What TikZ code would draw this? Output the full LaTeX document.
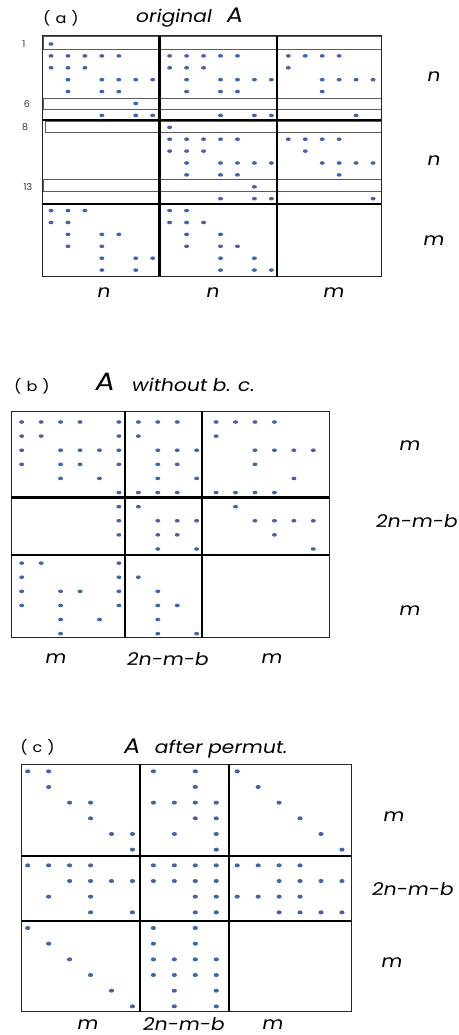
\documentclass[tikz,border=0pt]{standalone}
\usepackage{fontspec}
\setmainfont{Poppins}
\newfontfamily\slantfont{Poppins}[FakeSlant=0.18, FakeStretch=1.16]
\newfontfamily\widefont{Poppins}[FakeStretch=1.15]
\definecolor{dotblue}{HTML}{3A64B6}
\definecolor{boxgray}{HTML}{5A5A5A}

\tikzset{
  matdot/.style={fill=dotblue},
  thinframe/.style={draw=black!85, line width=1pt},
  blockline/.style={draw=black, line width=2.2pt},
  rowbox/.style={draw=boxgray, line width=0.9pt},
  sizelabel/.style={font=\slantfont\fontsize{17.5}{17.5}\selectfont, inner sep=1pt},
  bigletter/.style={font=\slantfont\fontsize{21}{21}\selectfont, inner sep=1pt},
  panellabel/.style={font=\widefont\fontsize{14}{14}\selectfont, inner sep=1pt},
  rowlabel/.style={font=\fontsize{9.5}{10}\selectfont, text=black!80},
}

\begin{document}
\begin{tikzpicture}[x=1pt, y=-1pt]
\useasboundingbox (0,0) rectangle (458,1035);

% ---------- (a) original A ----------
\node[panellabel, anchor=base] (pa) at (61,24) {(\hspace{5pt}a\hspace{5pt})};
\node[sizelabel, anchor=base west] (orig) at (134,22.5) {original};
\node[bigletter, anchor=base west] (Aa) at ([xshift=12pt]orig.base east) {A};
% boundary rows
\draw[rowbox] (43,36.5) rectangle (381,49);
\draw[rowbox] (43,98) rectangle (381,109.5);
\draw[rowbox] (45,121) rectangle (381,132.5);
\draw[rowbox] (43,179.5) rectangle (381,191.5);
% frame and blocks
\draw[thinframe] (42,36) rectangle (381,276);
\draw[blockline] (159.5,36) -- (159.5,276);
\draw[blockline] (277,36) -- (277,277);
\draw[blockline] (42,120) -- (381,120);
\draw[blockline] (42,204) -- (381,204);
% row numbers
\node[rowlabel] (ra1) at (24,44) {1};
\node[rowlabel] (ra6) at (27,104) {6};
\node[rowlabel] (ra8) at (25,127) {8};
\node[rowlabel] (ra13) at (28,187) {13};
% nonzeros
\foreach \r/\cs in {1/{1}, 2/{1,2,3,4,5,8,9,10,11,12,15,16,17,18}, 3/{1,2,3,8,9,10,15},
    4/{2,4,5,6,7,9,11,12,13,14,17,18,19,20}, 5/{2,4,5,9,11,12,17}, 6/{6},
    7/{4,6,7,11,13,14,19}, 8/{8}, 9/{8,9,10,11,12,15,16,17,18}, 10/{8,9,10,16},
    11/{9,11,12,13,14,17,18,19,20}, 12/{9,11,12,18}, 13/{13}, 14/{11,13,14,20},
    15/{1,2,3,8,9}, 16/{1,2,8,9,10}, 17/{2,4,5,9,11}, 18/{2,4,9,11,12},
    19/{4,6,7,11,13}, 20/{4,6,11,13,14}}
  \foreach \c in \cs
    \fill[matdot] ({51+16.95*(\c-1)},{44+11.9*(\r-1)}) ellipse (2.5pt and 1.8pt);
% block sizes
\node[sizelabel] (ra-n1) at (433,77) {n};
\node[sizelabel] (ra-n2) at (433,161) {n};
\node[sizelabel] (ra-m) at (433,241) {m};
\node[sizelabel] (ca-n1) at (103,293) {n};
\node[sizelabel] (ca-n2) at (212,293) {n};
\node[sizelabel] (ca-m) at (333,293) {m};

% ---------- (b) A without b. c. ----------
\node[panellabel, anchor=base] (pb) at (32,391) {(\hspace{5pt}b\hspace{5pt})};
\node[bigletter, font=\slantfont\fontsize{25}{25}\selectfont, anchor=base west] (Ab) at (93,390) {A};
\node[sizelabel, anchor=base west] (wobc) at (130,391) {without b. c.};
% frame and blocks
\draw[thinframe] (11,411) rectangle (329,637.5);
\draw[blockline] (125,411) -- (125,637.5);
\draw[blockline] (202,411) -- (202,637.5);
\draw[blockline] (11,497.5) -- (329,497.5);
\draw[blockline] (11,555) -- (329,555);
% nonzeros
\foreach \r/\cs in {1/{1,2,3,4,6,7,8,9,11,12,13,14}, 2/{1,2,6,7,11},
    3/{1,3,4,5,6,8,9,10,13,14,15,16}, 4/{1,3,4,6,8,9,13}, 5/{3,5,8,10,15},
    6/{6,7,8,9,11,12,13,14}, 7/{6,7,12}, 8/{6,8,9,10,13,14,15,16}, 9/{6,8,9,14},
    10/{8,10,16}, 11/{1,2,6}, 12/{1,6,7}, 13/{1,3,4,6,8}, 14/{1,3,6,8,9},
    15/{3,5,8}, 16/{3,8,10}}
  \foreach \c in \cs
    \fill[matdot] ({21.7+19.44*(\c-1)},{422+14.11*(\r-1)}) ellipse (2.5pt and 1.8pt);
% block sizes
\node[sizelabel] (rb-m1) at (409,446) {m};
\node[sizelabel] (rb-k) at (416,521) {2n-m-b};
\node[sizelabel] (rb-m2) at (409,611) {m};
\node[sizelabel] (cb-m1) at (55,659) {m};
\node[sizelabel] (cb-k) at (167,659) {2n-m-b};
\node[sizelabel] (cb-m2) at (271,659) {m};

% ---------- (c) A after permut. ----------
\node[panellabel, anchor=base] (pc) at (37.5,752) {(\hspace{5pt}c\hspace{5pt})};
\node[bigletter, anchor=base west] (Ac) at (121.7,753) {A};
\node[sizelabel, anchor=base west] (perm) at (152.7,753) {after permut.};
% frame and blocks
\draw[thinframe] (21.3,764.3) rectangle (351.3,1011.7);
\draw[blockline] (140,764.3) -- (140,1011.7);
\draw[blockline] (228.7,764.3) -- (228.7,1011.7);
\draw[blockline] (21.3,856.3) -- (351.3,856.3);
\draw[blockline] (21.3,920.7) -- (351.3,920.7);
% nonzeros
\foreach \r/\cs in {1/{1,2,7,9,11}, 2/{2,9,12}, 3/{3,4,7,8,9,10,13}, 4/{4,9,10,14},
    5/{5,6,8,10,15}, 6/{6,10,16}, 7/{1,2,3,4,7,8,9,10,11,12,13,14},
    8/{3,4,5,6,7,8,9,10,13,14,15,16}, 9/{2,4,9,10,11,12,13,14},
    10/{4,6,9,10,13,14,15,16}, 11/{1,7,9}, 12/{2,7,9}, 13/{3,7,8,9,10},
    14/{4,7,8,9,10}, 15/{5,8,10}, 16/{6,8,10}}
  \foreach \c in \cs
    \fill[matdot] ({27.7+20.95*(\c-1)},{771.3+15.67*(\r-1)}) ellipse (2.6pt and 2pt);
% block sizes
\node[sizelabel] (rc-m1) at (393,817) {m};
\node[sizelabel] (rc-k) at (412,889) {2n-m-b};
\node[sizelabel] (rc-m2) at (391,963) {m};
\node[sizelabel] (cc-m1) at (87,1025) {m};
\node[sizelabel] (cc-k) at (183,1024) {2n-m-b};
\node[sizelabel] (cc-m2) at (272,1025) {m};
\end{tikzpicture}
\end{document}
